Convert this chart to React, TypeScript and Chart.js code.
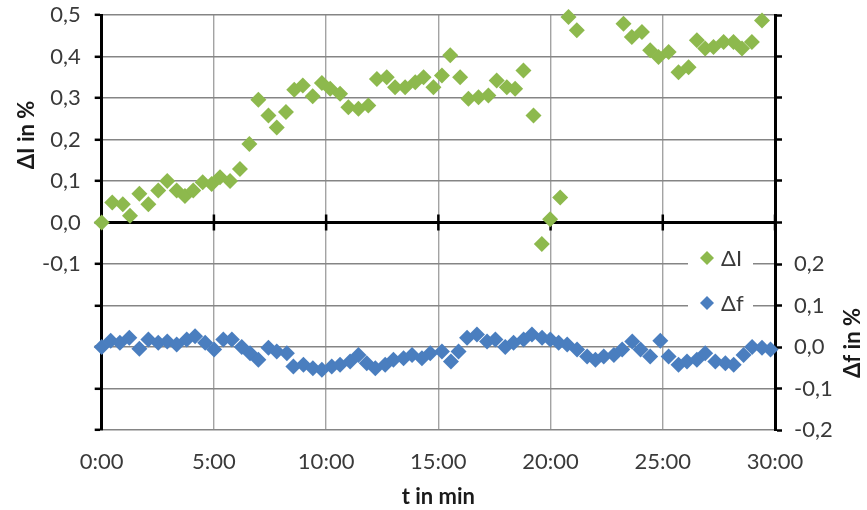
import React, { useEffect, useRef } from "react";
import { Chart, registerables } from "chart.js";

Chart.register(...registerables);

// ΔI series (time in min, value in %)
const tI = [0, 0.47, 0.94, 1.26, 1.68, 2.08, 2.52, 2.92, 3.34, 3.71, 4.08, 4.5, 4.9, 5.27, 5.72, 6.16, 6.58, 6.98, 7.43, 7.8, 8.21, 8.58, 8.96, 9.4, 9.81, 10.18, 10.62, 10.99, 11.44, 11.88, 12.26, 12.7, 13.07, 13.52, 13.97, 14.34, 14.78, 15.16, 15.53, 15.97, 16.34, 16.79, 17.23, 17.6, 18.05, 18.42, 18.79, 19.24, 19.61, 19.98, 20.43, 20.8, 21.17, 23.25, 23.62, 24.07, 24.44, 24.81, 25.26, 25.7, 26.15, 26.52, 26.89, 27.26, 27.71, 28.15, 28.53, 28.97, 29.42];
const dI = [0.0, 0.048, 0.044, 0.016, 0.069, 0.044, 0.077, 0.1, 0.077, 0.064, 0.077, 0.097, 0.093, 0.109, 0.1, 0.129, 0.189, 0.296, 0.258, 0.229, 0.266, 0.32, 0.33, 0.304, 0.336, 0.322, 0.31, 0.278, 0.274, 0.282, 0.346, 0.35, 0.326, 0.326, 0.338, 0.35, 0.326, 0.354, 0.403, 0.35, 0.298, 0.302, 0.306, 0.342, 0.326, 0.322, 0.366, 0.258, -0.052, 0.008, 0.06, 0.495, 0.463, 0.479, 0.447, 0.459, 0.415, 0.399, 0.411, 0.362, 0.374, 0.439, 0.419, 0.423, 0.435, 0.435, 0.419, 0.435, 0.487];

// Δf series
const tF = [0, 0.4, 0.81, 1.23, 1.68, 2.08, 2.52, 2.92, 3.34, 3.79, 4.16, 4.61, 5.01, 5.42, 5.8, 6.24, 6.61, 6.98, 7.43, 7.8, 8.25, 8.54, 8.99, 9.41, 9.81, 10.25, 10.62, 11.07, 11.44, 11.81, 12.19, 12.63, 13.0, 13.45, 13.83, 14.27, 14.64, 15.16, 15.56, 15.9, 16.28, 16.72, 17.17, 17.54, 17.98, 18.35, 18.8, 19.17, 19.62, 19.99, 20.36, 20.74, 21.18, 21.63, 22.0, 22.37, 22.82, 23.19, 23.64, 24.01, 24.44, 24.89, 25.26, 25.7, 26.08, 26.52, 26.89, 27.34, 27.79, 28.16, 28.6, 28.98, 29.42, 29.8];
const dF = [0.0, 0.015, 0.01, 0.022, -0.004, 0.018, 0.01, 0.013, 0.006, 0.018, 0.026, 0.01, -0.006, 0.018, 0.018, 0.0, -0.015, -0.031, -0.002, -0.011, -0.015, -0.047, -0.043, -0.051, -0.055, -0.047, -0.043, -0.035, -0.019, -0.039, -0.051, -0.043, -0.031, -0.027, -0.019, -0.027, -0.015, -0.011, -0.035, -0.011, 0.022, 0.03, 0.013, 0.018, 0.0, 0.01, 0.018, 0.03, 0.022, 0.018, 0.01, 0.006, -0.006, -0.023, -0.031, -0.023, -0.019, -0.006, 0.013, -0.006, -0.023, 0.015, -0.023, -0.043, -0.035, -0.031, -0.015, -0.035, -0.039, -0.043, -0.019, 0.0, -0.002, -0.006];

const xTickValues = [0, 5, 10, 15, 20, 25, 30];
const xTickLabels = ["0:00", "5:00", "10:00", "15:00", "20:00", "25:00", "30:00"];
const leftLabelMin = -0.1;
const rightLabelMax = 0.2;

const seriesNames = ["ΔI", "Δf"];
const seriesColors = ["#8DB94D", "#4A7EBF"];
const titles = { left: "ΔI in %", right: "Δf in %", x: "t in min" };

const FONT = "Lato, 'Open Sans', sans-serif";
const TXT = "#3a3a3a";

const fmt = (v: number) => (Math.abs(v) < 1e-9 ? 0 : v).toFixed(1).replace(".", ",");

function drawDiamond(ctx: CanvasRenderingContext2D, x: number, y: number, r: number, color: string) {
  ctx.beginPath();
  ctx.moveTo(x - r, y);
  ctx.lineTo(x, y - r);
  ctx.lineTo(x + r, y);
  ctx.lineTo(x, y + r);
  ctx.closePath();
  ctx.fillStyle = color;
  ctx.fill();
}

const decor = {
  id: "decor",
  beforeDatasetsDraw(chart: any) {
    const { ctx, chartArea, scales } = chart;
    const y0 = scales.y.getPixelForValue(0);
    ctx.save();
    ctx.strokeStyle = "#000";
    ctx.lineWidth = 3;
    ctx.beginPath();
    ctx.moveTo(chartArea.left, y0);
    ctx.lineTo(chartArea.right, y0);
    ctx.stroke();
    ctx.lineWidth = 2.5;
    ctx.beginPath();
    for (const v of xTickValues) {
      const px = scales.x.getPixelForValue(v);
      ctx.moveTo(px, y0 - 8);
      ctx.lineTo(px, y0 + 8);
    }
    ctx.stroke();
    ctx.restore();
  },
  afterDraw(chart: any) {
    const { ctx, chartArea } = chart;
    ctx.save();
    // legend box
    const lx = chartArea.right - 87;
    ctx.fillStyle = "#fff";
    ctx.fillRect(lx, 240, 65, 82);
    ctx.font = `22px ${FONT}`;
    ctx.textBaseline = "middle";
    ctx.textAlign = "left";
    const ly = [258, 303];
    seriesNames.forEach((n, i) => {
      drawDiamond(ctx, lx + 19, ly[i], 7, seriesColors[i]);
      ctx.fillStyle = TXT;
      ctx.fillText(n, lx + 33, ly[i] + 1);
    });
    // titles
    ctx.fillStyle = "#1a1a1a";
    ctx.font = `bold 22px ${FONT}`;
    ctx.textAlign = "center";
    ctx.save();
    ctx.translate(27, 135);
    ctx.rotate(-Math.PI / 2);
    ctx.fillText(titles.left, 0, 0);
    ctx.restore();
    ctx.save();
    ctx.translate(853, 343);
    ctx.rotate(-Math.PI / 2);
    ctx.fillText(titles.right, 0, 0);
    ctx.restore();
    ctx.fillText(titles.x, (chartArea.left + chartArea.right) / 2, 497);
    ctx.restore();
  },
};

export default function App() {
  const ref = useRef<HTMLCanvasElement>(null);
  useEffect(() => {
    document.body.style.margin = "0";
    const canvas = ref.current!;
    const font = { family: FONT, size: 22 };
    const chart = new Chart(canvas, {
      type: "scatter",
      data: {
        datasets: [
          {
            label: seriesNames[0],
            data: tI.map((t, i) => ({ x: t, y: dI[i] })),
            yAxisID: "y",
            pointStyle: "rectRot",
            pointRadius: 8,
            pointBorderWidth: 0,
            backgroundColor: seriesColors[0],
            borderColor: seriesColors[0],
            showLine: false,
            clip: false as any,
          },
          {
            label: seriesNames[1],
            data: tF.map((t, i) => ({ x: t, y: dF[i] })),
            yAxisID: "y2",
            pointStyle: "rectRot",
            pointRadius: 8,
            pointBorderWidth: 0,
            backgroundColor: seriesColors[1],
            borderColor: seriesColors[1],
            showLine: false,
            clip: false as any,
          },
        ],
      },
      options: {
        animation: false,
        responsive: false,
        maintainAspectRatio: false,
        layout: { padding: { top: 15, left: 0, right: 0, bottom: 0 } },
        plugins: { legend: { display: false }, tooltip: { enabled: false } },
        scales: {
          x: {
            type: "linear",
            min: 0,
            max: 30,
            position: "bottom",
            afterBuildTicks: (s: any) => {
              s.ticks = xTickValues.map((v) => ({ value: v }));
            },
            ticks: {
              callback: (_v: any, i: number) => xTickLabels[i],
              padding: 19,
              font,
              color: TXT,
              maxRotation: 0,
              autoSkip: false,
            },
            grid: {
              color: (c: any) => (c.tick && (c.tick.value === 0 || c.tick.value === 30) ? "rgba(0,0,0,0)" : "#a3a3a3"),
              lineWidth: 1.4,
              drawTicks: false,
            },
            border: { display: false },
            afterFit: (s: any) => {
              s.height = 80;
              s.paddingLeft = 0;
              s.paddingRight = 0;
            },
          },
          y: {
            position: "left",
            min: -0.5,
            max: 0.5,
            ticks: {
              stepSize: 0.1,
              callback: (v: any) => (v >= leftLabelMin - 1e-9 ? fmt(v) : ""),
              padding: 14,
              font,
              color: TXT,
            },
            grid: { color: "#858585", lineWidth: 1.6, tickColor: "#000", tickWidth: 2.5, tickLength: 7 },
            border: { color: "#000", width: 3 },
            afterFit: (s: any) => {
              s.width = 101.7;
              s.paddingTop = 0;
              s.paddingBottom = 0;
            },
          },
          y2: {
            position: "right",
            min: -0.2,
            max: 0.8,
            ticks: {
              stepSize: 0.1,
              callback: (v: any) => (v <= rightLabelMax + 1e-9 ? fmt(v) : ""),
              padding: 12,
              font,
              color: TXT,
            },
            grid: { drawOnChartArea: false, tickColor: "#000", tickWidth: 2.5, tickLength: 7 },
            border: { color: "#000", width: 3 },
            afterFit: (s: any) => {
              s.width = 92;
              s.paddingTop = 0;
              s.paddingBottom = 0;
            },
          },
        },
      } as any,
      plugins: [decor],
    });
    return () => chart.destroy();
  }, []);
  return <canvas ref={ref} width={867} height={510} style={{ display: "block", width: 867, height: 510 }} />;
}
